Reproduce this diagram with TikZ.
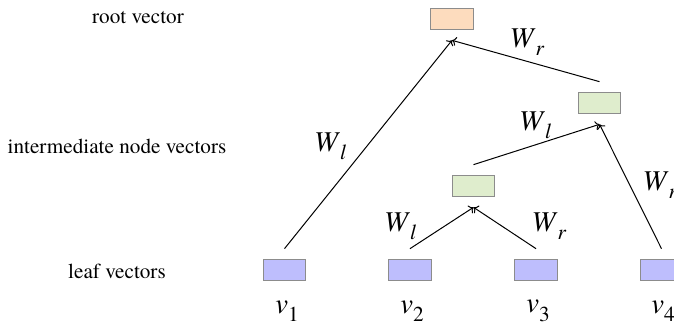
\documentclass[tikz,border=0pt]{standalone}
\usepackage{fontspec}
\IfFontExistsTF{texgyretermes-regular.otf}
	{\setmainfont{texgyretermes}[Extension=.otf, UprightFont=*-regular, ItalicFont=*-italic, BoldFont=*-bold, BoldItalicFont=*-bolditalic]}
	{}
\usetikzlibrary{arrows.meta}

\definecolor{rootfill}{RGB}{253,220,190}
\definecolor{midfill}{RGB}{223,237,205}
\definecolor{leaffill}{RGB}{190,190,253}
\definecolor{boxline}{RGB}{140,140,140}

\newcommand{\wlab}[1]{\textit{W}\raisebox{-0.28em}{\fontsize{16}{16}\selectfont\textit{#1}}}
\newcommand{\vlab}[1]{\textit{v}\raisebox{-0.3em}{\fontsize{16}{16}\selectfont #1}}

\tikzset{
	vecbox/.style={draw=boxline, line width=0.8pt, minimum width=32pt, minimum height=16pt, inner sep=0pt, outer ysep=8pt},
	rootbox/.style={vecbox, fill=rootfill},
	midbox/.style={vecbox, fill=midfill},
	leafbox/.style={vecbox, fill=leaffill},
	rowtext/.style={font=\fontsize{15.9}{18}\selectfont},
	wtext/.style={font=\fontsize{21.5}{24}\selectfont},
	comb/.style={->, line width=0.75pt}
}

\begin{document}
\begin{tikzpicture}[x=0.75pt, y=0.75pt]
	\useasboundingbox (0,0) rectangle (674,327);
	\clip (0,0) rectangle (674,327);
	% row names
	\node[rowtext] (rootname) at (138,309) {root vector};
	\node[rowtext] (midname) at (117,181) {intermediate node vectors};
	\node[rowtext] (leafname) at (117,56) {leaf vectors};
	% vectors
	\node[rootbox] (root) at (452,308) {};
	\node[midbox] (p2) at (599.5,224) {};
	\node[midbox] (p1) at (473.5,141) {};
	\node[leafbox] (v1) at (284.5,57) {};
	\node[leafbox] (v2) at (410,57) {};
	\node[leafbox] (v3) at (536,57) {};
	\node[leafbox] (v4) at (661.5,57) {};
	% leaf names
	\node[wtext] (n1) at (287,16) {\vlab{1}};
	\node[wtext] (n2) at (412,16) {\vlab{2}};
	\node[wtext] (n3) at (538,16) {\vlab{3}};
	\node[wtext] (n4) at (663,16) {\vlab{4}};
	% compositions
	\draw[comb] (v2.north) -- (p1.south);
	\draw[comb] (v3.north) -- (p1.south);
	\draw[comb] (p1.north) -- (p2.south);
	\draw[comb] (v4.north) -- (p2.south);
	\draw[comb] (v1.north) -- (root.south);
	\draw[comb] (p2.north) -- (root.south);
	% weights
	\node[wtext] (w1) at (330,181) {\wlab{l}};
	\node[wtext] (w2) at (527,285) {\wlab{r}};
	\node[wtext] (w3) at (535,202) {\wlab{l}};
	\node[wtext] (w4) at (400,101) {\wlab{l}};
	\node[wtext] (w5) at (549,101) {\wlab{r}};
	\node[wtext] (w6) at (660,142) {\wlab{r}};
\end{tikzpicture}
\end{document}
